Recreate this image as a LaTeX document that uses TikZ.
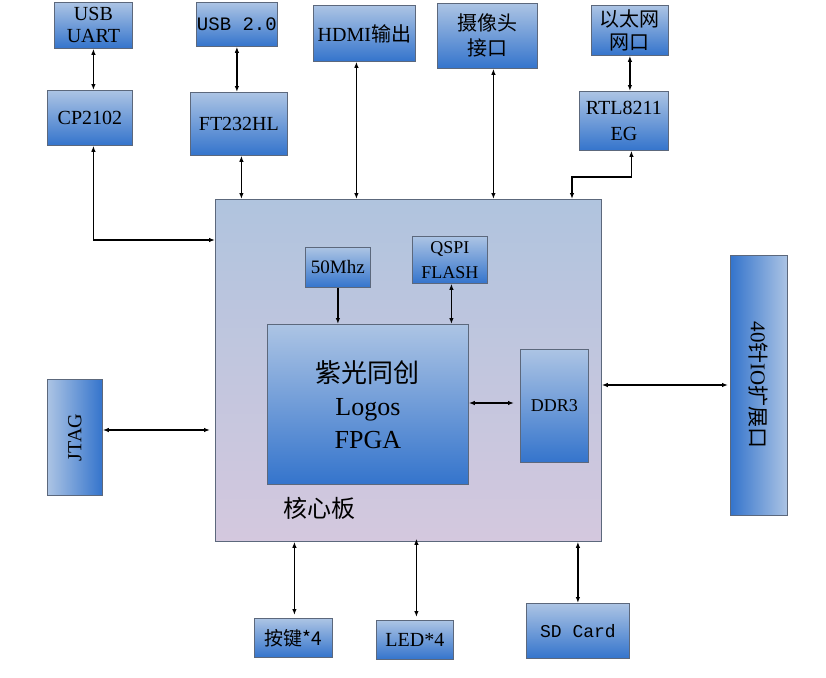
\documentclass[tikz,border=0pt]{standalone}
\usepackage{fontspec}
\setmainfont{Liberation Serif}
\setmonofont{Liberation Mono}
\newfontfamily\cjk{Noto Sans CJK SC}
\usetikzlibrary{arrows.meta}
\definecolor{boxtop}{RGB}{172,196,228}
\definecolor{boxbot}{RGB}{52,116,204}
\definecolor{coretop}{RGB}{176,196,222}
\definecolor{corebot}{RGB}{212,200,222}
\definecolor{edge}{RGB}{92,104,124}
\tikzset{
  blk/.style={draw=edge, line width=0.8pt, top color=boxtop, bottom color=boxbot,
    inner sep=0pt, anchor=north west, align=center, font=\fontsize{20}{22}\selectfont},
  corebox/.style={draw=edge, line width=0.8pt, top color=coretop, bottom color=corebot,
    inner sep=0pt, anchor=north west},
  bi/.style={line width=1.2pt, {Latex[length=6pt,width=4.5pt]}-{Latex[length=6pt,width=4.5pt]}},
  uni/.style={line width=1.2pt, -{Latex[length=6pt,width=4.5pt]}}
}
\begin{document}
\begin{tikzpicture}[x=1pt,y=-1pt]
\useasboundingbox (0,0) rectangle (826,677);
% core board
\node[corebox, minimum width=386pt, minimum height=342pt] (core) at (215,199) {};
\node[font=\cjk\fontsize{24}{26}\selectfont] (corelbl) at (319,508) {核心板};
% top row
\node[blk, minimum width=78pt, minimum height=46pt, font=\fontsize{20}{22}\selectfont] (uart) at (54,2) {USB\\UART};
\node[blk, minimum width=85pt, minimum height=55pt] (cp) at (47,90) {CP2102};
\node[blk, minimum width=81pt, minimum height=44pt, font=\ttfamily\fontsize{19}{21}\selectfont] (usb2) at (196,2) {USB 2.0};
\node[blk, minimum width=97pt, minimum height=63pt] (ft) at (190,92) {FT232HL};
\node[blk, minimum width=102pt, minimum height=56pt] (hdmi) at (313,5) {HDMI{\cjk 输出}};
\node[blk, minimum width=100pt, minimum height=65pt, font=\cjk\fontsize{20}{25}\selectfont] (cam) at (437,3) {摄像头\\接口};
\node[blk, minimum width=77pt, minimum height=50pt, font=\cjk\fontsize{20}{23}\selectfont] (eth) at (591,5) {以太网\\网口};
\node[blk, minimum width=89pt, minimum height=59pt, font=\fontsize{20}{26}\selectfont] (rtl) at (579,91) {RTL8211\\EG};
% inside core
\node[blk, minimum width=65pt, minimum height=40pt, font=\fontsize{19}{21}\selectfont] (clk) at (305,247) {50Mhz};
\node[blk, minimum width=75pt, minimum height=47pt, font=\fontsize{18}{25}\selectfont] (qspi) at (412,236) {QSPI\\FLASH};
\node[blk, minimum width=201pt, minimum height=160pt, font=\fontsize{26}{33}\selectfont] (fpga) at (267,324) {{\cjk 紫光同创}\\Logos\\FPGA};
\node[blk, minimum width=68pt, minimum height=113pt, font=\fontsize{18}{20}\selectfont] (ddr) at (520,349) {DDR3};
% side boxes
\node[draw=edge, line width=0.8pt, left color=boxtop, right color=boxbot, inner sep=0pt,
  anchor=north west, minimum width=55pt, minimum height=116pt] (jtag) at (47,379) {};
\node[rotate=90, font=\fontsize{20}{22}\selectfont] (jtaglbl) at (jtag.center) {JTAG};
\node[draw=edge, line width=0.8pt, left color=boxbot, right color=boxtop, inner sep=0pt,
  anchor=north west, minimum width=57pt, minimum height=260pt] (io) at (730,255) {};
\node[rotate=-90, font=\fontsize{21}{23}\selectfont] (iolbl) at (io.center) {40{\cjk 针}IO{\cjk 扩展口}};
% bottom row
\node[blk, minimum width=78pt, minimum height=39pt, font=\cjk\fontsize{19}{21}\selectfont] (key) at (254,618) {按键*4};
\node[blk, minimum width=77pt, minimum height=39pt] (led) at (376,620) {LED*4};
\node[blk, minimum width=103pt, minimum height=55pt, font=\ttfamily\fontsize{18}{20}\selectfont] (sd) at (526,603) {SD Card};
% connectors
\draw[bi] (uart.south) -- (uart.south |- cp.north);
\draw[bi] ([xshift=3.5pt]cp.south) |- (core.west |- 0,240);
\draw[bi] (usb2.south) -- (usb2.south |- ft.north);
\draw[bi] ([xshift=2.5pt]ft.south) -- ([xshift=2.5pt]ft.south |- core.north);
\draw[bi] ([xshift=-8pt]hdmi.south) -- ([xshift=-8pt]hdmi.south |- core.north);
\draw[bi] ([xshift=6pt]cam.south) -- ([xshift=6pt]cam.south |- core.north);
\draw[bi] (eth.south) -- (eth.south |- rtl.north);
\coordinate (rtlbend) at (572,177);
\draw[bi] ([xshift=7.5pt]rtl.south) |- (rtlbend) -- (rtlbend |- core.north);
\draw[uni] (clk.south) -- (clk.south |- fpga.north);
\draw[bi] ([xshift=1.5pt]qspi.south) -- ([xshift=1.5pt]qspi.south |- fpga.north);
\draw[bi] (fpga.east |- 0,403) -- ([xshift=-6pt]ddr.west |- 0,403);
\draw[bi] (jtag.east |- 0,430) -- ([xshift=-5pt]core.west |- 0,430);
\draw[bi] (core.east |- 0,385) -- ([xshift=-2pt]io.west |- 0,385);
\draw[bi] ([xshift=1pt]key.north |- core.south) -- ([xshift=1pt,yshift=3pt]key.north);
\draw[bi] ([xshift=1.5pt,yshift=3pt]led.north |- core.south) -- ([xshift=1.5pt,yshift=3pt]led.north);
\draw[bi] (sd.north |- core.south) -- (sd.north);
\end{tikzpicture}
\end{document}
